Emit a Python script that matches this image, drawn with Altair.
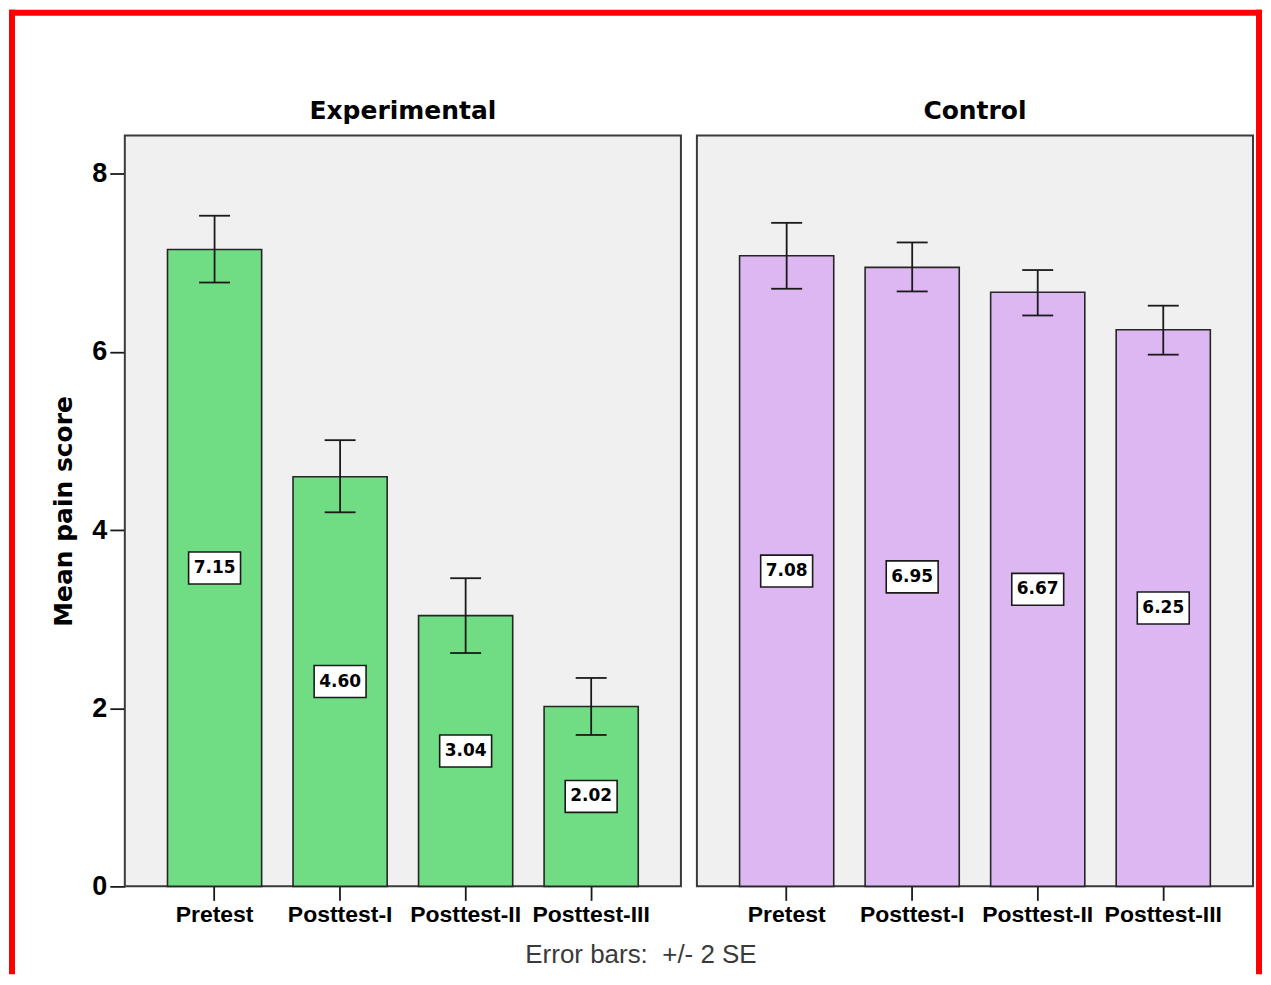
import altair as alt
import pandas as pd

groups = ["Experimental", "Control"]
times = ["Pretest", "Posttest-I", "Posttest-II", "Posttest-III"]
exp_mean = [7.15, 4.60, 3.04, 2.02]
exp_low = [6.78, 4.20, 2.62, 1.70]
exp_high = [7.53, 5.01, 3.46, 2.34]
ctl_mean = [7.08, 6.95, 6.67, 6.25]
ctl_low = [6.71, 6.68, 6.41, 5.97]
ctl_high = [7.45, 7.23, 6.92, 6.52]
bar_colors = ["#70dc84", "#ddb7f2"]
y_ticks = [0, 2, 4, 6, 8]

rows = []
for g, ms, los, his in [(groups[0], exp_mean, exp_low, exp_high),
                        (groups[1], ctl_mean, ctl_low, ctl_high)]:
    for t, m, lo, hi in zip(times, ms, los, his):
        rows.append({"group": g, "time": t, "mean": m, "low": lo, "high": hi})
df = pd.DataFrame(rows)

INK = "#1a1a1a"
YTITLE = "Mean pain score"

x_enc = alt.X(
    "time:N", sort=times, title=None,
    scale=alt.Scale(paddingInner=0.25, paddingOuter=0.34),
    axis=alt.Axis(labelAngle=0, domain=False, tickSize=14, tickWidth=1.8,
                  tickColor=INK, labelFont="Liberation Sans", labelFontWeight="bold",
                  labelFontSize=23, labelColor="black", labelPadding=3,
                  labelOverlap=False, labelLimit=300),
)
y_scale = alt.Scale(domain=[0, 8.43], nice=False, zero=True)
y_axis = alt.Axis(values=y_ticks, grid=False, domain=False, tickSize=15, tickWidth=1.8,
                  tickColor=INK, labelFont="Liberation Sans", labelFontWeight="bold",
                  labelFontSize=27, labelColor="black", labelPadding=3,
                  titleFont="DejaVu Sans", titleFontWeight="bold", titleFontSize=25,
                  titleColor="black", titlePadding=15)


def yq(field):
    return alt.Y(field, scale=y_scale, axis=y_axis, title=YTITLE)


bars = alt.Chart().mark_bar(stroke="#262626", strokeWidth=1.6).encode(
    x=x_enc, y=yq("mean:Q"),
    color=alt.Color("group:N", scale=alt.Scale(domain=groups, range=bar_colors), legend=None),
)
err = alt.Chart().mark_rule(color=INK, strokeWidth=1.8).encode(
    x=x_enc, y=yq("low:Q"), y2="high:Q"
)
cap_lo = alt.Chart().mark_tick(color=INK, thickness=1.8, size=31, opacity=1).encode(
    x=x_enc, y=yq("low:Q")
)
cap_hi = alt.Chart().mark_tick(color=INK, thickness=1.8, size=31, opacity=1).encode(
    x=x_enc, y=yq("high:Q")
)
box = alt.Chart().transform_calculate(half="datum.mean / 2").mark_point(
    shape="M-1.625,-1H1.625V1H-1.625Z", size=1024, filled=True, fill="white",
    fillOpacity=1, opacity=1, stroke=INK, strokeWidth=1.6,
).encode(x=x_enc, y=yq("half:Q"))
labels = alt.Chart().transform_calculate(half="datum.mean / 2").mark_text(
    font="DejaVu Sans", fontWeight="bold", fontSize=17, color="black", baseline="middle"
).encode(x=x_enc, y=yq("half:Q"), text=alt.Text("mean:Q", format=".2f"))

one = alt.Chart().transform_filter("datum.group == 'Experimental' && datum.time == 'Pretest'")
RED = "#ff0000"
red_left = one.mark_rect(color=RED, strokeWidth=0).encode(
    x=alt.value(-116), x2=alt.value(-110), y=alt.value(-126), y2=alt.value(840))
red_top = one.mark_rect(color=RED, strokeWidth=0).encode(
    x=alt.value(-116), x2=alt.value(1139), y=alt.value(-126), y2=alt.value(-120))
red_right = one.mark_rect(color=RED, strokeWidth=0).encode(
    x=alt.value(1133), x2=alt.value(1139), y=alt.value(-126), y2=alt.value(840))
footer = one.mark_text(text="Error bars:\u00a0 +/- 2 SE", font="Liberation Sans", fontSize=26,
                       color="#3a3a3a", align="center", baseline="middle").encode(
    x=alt.value(517), y=alt.value(821))

layered = alt.layer(bars, err, cap_lo, cap_hi, box, labels,
                    red_left, red_top, red_right, footer, data=df).properties(width=557, height=752)

chart = layered.facet(
    column=alt.Column("group:N", sort=groups, title=None,
                      header=alt.Header(labelFont="DejaVu Sans", labelFontWeight="bold",
                                        labelFontSize=25, labelColor="black",
                                        labelPadding=12)),
    spacing=16,
    bounds="flush",
).properties(padding=0, background="white").configure_view(
    fill="#f0f0f0", stroke="#3a3a3a", strokeWidth=2
)

chart.save("out.html", embed_options={"renderer": "svg", "actions": False})
